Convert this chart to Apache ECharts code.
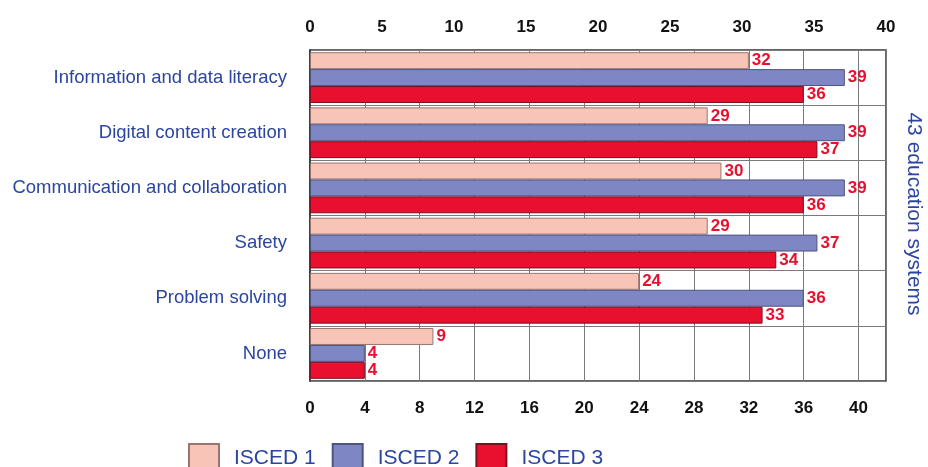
<!DOCTYPE html>
<html>
<head>
<meta charset="utf-8">
<script src="https://cdn.jsdelivr.net/npm/echarts@6/dist/echarts.min.js"></script>
<style>
  html, body { margin: 0; padding: 0; background: #fff; }
  #chart { width: 928px; height: 467px; }
</style>
</head>
<body>
<div id="chart"></div>
<script>
// categories, top to bottom
const categories = ['Information and data literacy', 'Digital content creation', 'Communication and collaboration', 'Safety', 'Problem solving', 'None']
// number of education systems
const isced1 = [32, 29, 30, 29, 24, 9]
const isced2 = [39, 39, 39, 37, 36, 4]
const isced3 = [36, 37, 36, 34, 33, 4]
const seriesNames = ['ISCED 1', 'ISCED 2', 'ISCED 3']

const font = 'Liberation Sans, Arial, sans-serif'
const blueText = '#2b45a0'
const labelRed = '#e8102e'

const chart = echarts.init(document.getElementById('chart'))

// label on the end of each bar
const barLabel = {
  show: true,
  position: 'right',
  distance: 3,
  color: labelRed,
  fontWeight: 'bold',
  fontSize: 17,
  fontFamily: font
}

const option = {
  animation: false,
  grid: {
    left: 310,
    right: 42,
    top: 50,
    bottom: 86,
    outerBoundsMode: 'none',
    containLabel: false,
    show: true,
    borderColor: '#333',
    borderWidth: 1.5,
    backgroundColor: 'transparent'
  },
  legend: {
    data: seriesNames,
    left: 188,
    top: 443,
    padding: 0,
    itemWidth: 30,
    itemHeight: 28,
    itemGap: 16,
    icon: 'rect',
    textStyle: {
      color: blueText,
      fontSize: 21,
      fontFamily: font,
      padding: [4, 0, 0, 10]
    }
  },
  xAxis: [
    {
      // bottom axis, bars use this one
      type: 'value',
      position: 'bottom',
      min: 0,
      max: 42,
      interval: 4,
      axisLine: { show: false },
      axisTick: { show: false },
      splitLine: { show: true, lineStyle: { color: '#7a7a7a', width: 1 } },
      axisLabel: {
        margin: 19,
        color: '#111',
        fontWeight: 'bold',
        fontSize: 17,
        fontFamily: font,
        formatter: v => (v % 4 === 0 ? String(v) : '')
      }
    },
    {
      // top axis, labels only
      type: 'value',
      position: 'top',
      min: 0,
      max: 40,
      interval: 5,
      axisLine: { show: false },
      axisTick: { show: false },
      splitLine: { show: false },
      axisLabel: {
        margin: 14,
        color: '#111',
        fontWeight: 'bold',
        fontSize: 17,
        fontFamily: font
      }
    }
  ],
  yAxis: {
    type: 'category',
    inverse: true,
    data: categories,
    axisLine: { show: true, lineStyle: { color: '#333', width: 1.5 } },
    axisTick: { show: false },
    splitLine: { show: true, lineStyle: { color: '#7a7a7a', width: 1 } },
    axisLabel: {
      margin: 23,
      color: blueText,
      fontSize: 18.5,
      fontFamily: font
    }
  },
  series: [
    {
      name: seriesNames[0],
      type: 'bar',
      xAxisIndex: 0,
      data: isced1,
      barGap: '0%',
      barCategoryGap: '8%',
      itemStyle: { color: '#f8c4b8', borderColor: '#9a7570', borderWidth: 1 },
      label: barLabel
    },
    {
      name: seriesNames[1],
      type: 'bar',
      xAxisIndex: 0,
      data: isced2,
      itemStyle: { color: '#7f86c4', borderColor: '#4d557f', borderWidth: 1 },
      label: barLabel
    },
    {
      name: seriesNames[2],
      type: 'bar',
      xAxisIndex: 0,
      data: isced3,
      itemStyle: { color: '#e8102e', borderColor: '#7a1020', borderWidth: 1 },
      label: barLabel
    }
  ],
  graphic: [
    {
      type: 'text',
      x: 914,
      y: 214,
      rotation: -Math.PI / 2,
      style: {
        text: '43 education systems',
        fill: blueText,
        fontSize: 21,
        fontFamily: font,
        textAlign: 'center',
        textVerticalAlign: 'middle'
      }
    }
  ]
}

chart.setOption(option)
</script>
</body>
</html>
